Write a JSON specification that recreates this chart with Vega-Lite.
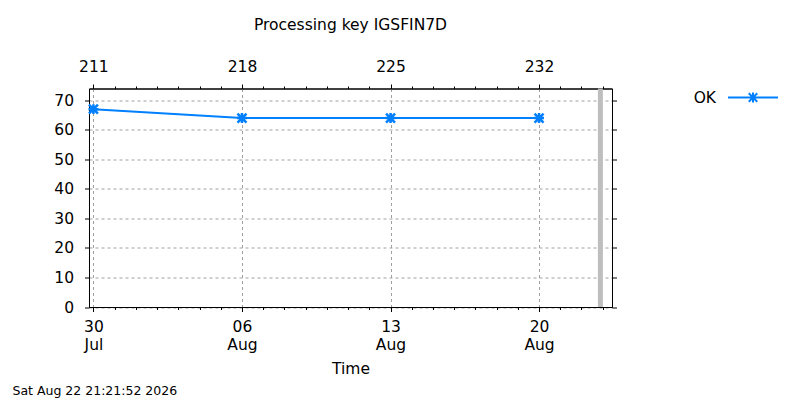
{
  "$schema": "https://vega.github.io/schema/vega-lite/v6.json",
  "autosize": {"type": "none"},
  "padding": {"left": 89, "top": 88.5, "right": 188, "bottom": 93},
  "width": 523,
  "height": 218.5,
  "background": "white",
  "title": {
    "text": "Processing key IGSFIN7D",
    "anchor": "middle",
    "frame": "group",
    "baseline": "alphabetic",
    "offset": 14,
    "fontSize": 15.5,
    "fontWeight": "normal",
    "color": "black"
  },
  "datasets": {
    "status": [
      {"time": "2026-07-30T00:00:00", "value": 67, "status": "OK"},
      {"time": "2026-08-06T00:00:00", "value": 64, "status": "OK"},
      {"time": "2026-08-13T00:00:00", "value": 64, "status": "OK"},
      {"time": "2026-08-20T00:00:00", "value": 64, "status": "OK"}
    ],
    "now": [
      {"time": "2026-08-22T21:21:52"}
    ]
  },
  "layer": [
    {
      "data": {"name": "now"},
      "mark": {"type": "rule", "color": "#bebebe", "strokeWidth": 5},
      "encoding": {
        "x": {"field": "time", "type": "temporal", "axis": null}
      }
    },
    {
      "data": {"name": "status"},
      "mark": {"type": "line", "strokeWidth": 2},
      "encoding": {
        "x": {
          "field": "time",
          "type": "temporal",
          "title": "Time",
          "scale": {
            "domain": [
              {"year": 2026, "month": 7, "date": 29, "hours": 19},
              {"year": 2026, "month": 8, "date": 23, "hours": 10, "minutes": 30}
            ],
            "nice": false
          },
          "axis": {
            "orient": "bottom",
            "tickCount": {"interval": "day", "step": 1},
            "labelExpr": "day(datum.value) === 4 ? [timeFormat(datum.value, '%d'), timeFormat(datum.value, '%b')] : ''",
            "labelLineHeight": 18,
            "labelPadding": 8,
            "titlePadding": 8,
            "grid": true,
            "gridOpacity": {"condition": {"test": "day(datum.value) === 4", "value": 1}, "value": 0},
            "tickSize": {"condition": {"test": "day(datum.value) === 4", "value": 4.5}, "value": 2.5}
          }
        },
        "y": {
          "field": "value",
          "type": "quantitative",
          "scale": {"domain": [0, 74], "nice": false},
          "axis": {
            "orient": "left",
            "values": [0, 10, 20, 30, 40, 50, 60, 70],
            "grid": true,
            "tickSize": 4.5,
            "labelPadding": 11,
            "title": "Sat Aug 22 21:21:52 2026",
            "titleAngle": 0,
            "titleAlign": "left",
            "titleBaseline": "middle",
            "titleX": -77,
            "titleY": 302,
            "titleFontSize": 12.5
          }
        },
        "color": {
          "field": "status",
          "type": "nominal",
          "scale": {"domain": ["OK"], "range": ["#0080ff"]},
          "legend": {
            "orient": "none",
            "legendX": 638,
            "legendY": -17
          }
        }
      }
    },
    {
      "data": {"name": "status"},
      "mark": {
        "type": "point",
        "filled": false,
        "shape": "M-1,-1L1,1M-1,1L1,-1M0,-1.1V1.1M-1.1,0H1.1",
        "size": 81,
        "strokeWidth": 2.5,
        "opacity": 1
      },
      "encoding": {
        "x": {
          "field": "time",
          "type": "temporal",
          "axis": {
            "orient": "top",
            "title": null,
            "format": "%j",
            "tickCount": {"interval": "day", "step": 1},
            "labelExpr": "day(datum.value) === 4 ? timeFormat(datum.value, '%j') : ''",
            "labelPadding": 10,
            "grid": false,
            "tickSize": {"condition": {"test": "day(datum.value) === 4", "value": 4.5}, "value": 2.5}
          }
        },
        "y": {
          "field": "value",
          "type": "quantitative",
          "axis": {
            "orient": "right",
            "values": [0, 10, 20, 30, 40, 50, 60, 70],
            "labels": false,
            "grid": false,
            "tickSize": 4.5,
            "title": null
          }
        },
        "color": {"field": "status", "type": "nominal"}
      }
    }
  ],
  "resolve": {"axis": {"x": "independent", "y": "independent"}},
  "config": {
    "font": "DejaVu Sans",
    "view": {"stroke": "black", "strokeWidth": 1},
    "axis": {
      "domainColor": "black",
      "domainWidth": 1,
      "tickColor": "black",
      "tickWidth": 1,
      "labelColor": "black",
      "labelFontSize": 15.5,
      "titleColor": "black",
      "titleFontSize": 15.5,
      "titleFontWeight": "normal",
      "gridColor": "#a0a0a0",
      "gridDash": [3, 3],
      "gridWidth": 1,
      "labelFlush": false,
      "labelOverlap": false
    },
    "legend": {
      "title": null,
      "padding": 0,
      "symbolType": "M-1,0H1M-0.17,-0.17L0.17,0.17M-0.17,0.17L0.17,-0.17M0,-0.2V0.2M-0.2,0H0.2",
      "symbolSize": 2500,
      "symbolStrokeWidth": 2,
      "symbolFillColor": "transparent",
      "labelFontSize": 15.5,
      "labelColor": "black",
      "labelAlign": "right",
      "labelOffset": -63
    }
  }
}
